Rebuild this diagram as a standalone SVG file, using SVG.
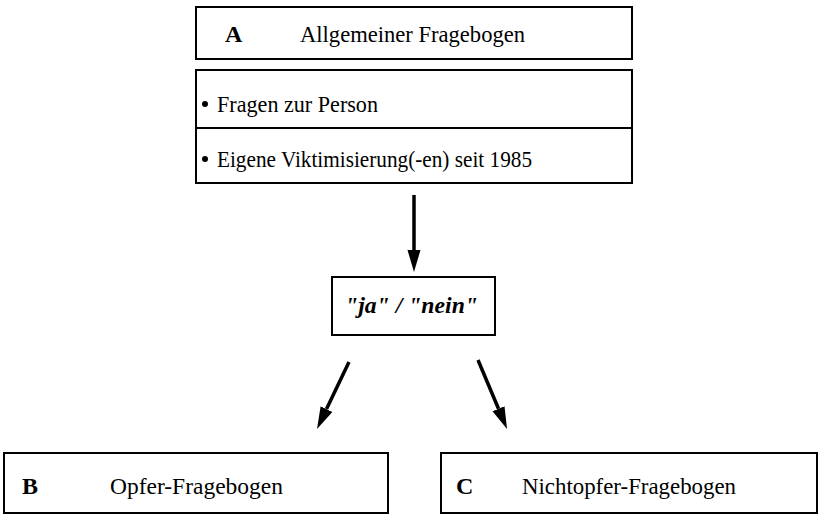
<svg xmlns="http://www.w3.org/2000/svg" width="821" height="528" viewBox="0 0 821 528">
<style>
.box{fill:#fff;stroke:#000;stroke-width:2}
.t{font-family:"Liberation Serif","Times New Roman",serif;font-size:24px;fill:#000}
.b{font-weight:bold}
.bi{font-weight:bold;font-style:italic;font-size:23px}
.c{fill:none;stroke:#000;stroke-width:3.5}
</style>
<defs>
<marker id="ah" markerUnits="userSpaceOnUse" viewBox="0 -7 24 14" refX="0" refY="0" markerWidth="24" markerHeight="14" orient="auto">
<path d="M0,-6.5 L22,0 L0,6.5 z" fill="#000"/>
</marker>
</defs>
<rect width="821" height="528" fill="#fff"/>
<g id="nodeA">
<rect class="box" x="196" y="7" width="436" height="52"/>
<text class="t b" x="225" y="42">A</text>
<text class="t" x="300" y="42" textLength="225" lengthAdjust="spacingAndGlyphs">Allgemeiner Fragebogen</text>
</g>
<g id="nodeA-items">
<rect class="box" x="196" y="70" width="436" height="113"/>
<line x1="196" y1="128" x2="632" y2="128" stroke="#000" stroke-width="2"/>
<circle cx="205" cy="104" r="3"/>
<text class="t" x="217" y="112" textLength="161" lengthAdjust="spacingAndGlyphs">Fragen zur Person</text>
<circle cx="205" cy="159" r="3"/>
<text class="t" x="217" y="167" textLength="315" lengthAdjust="spacingAndGlyphs">Eigene Viktimisierung(-en) seit 1985</text>
</g>
<g id="nodeDecision">
<rect class="box" x="332" y="277" width="163" height="58"/>
<text class="t bi" x="345" y="313" textLength="133" lengthAdjust="spacingAndGlyphs">"ja" / "nein"</text>
</g>
<g id="nodeB">
<rect class="box" x="4" y="453" width="384" height="60"/>
<text class="t b" x="22" y="494">B</text>
<text class="t" x="110" y="494" textLength="173" lengthAdjust="spacingAndGlyphs">Opfer-Fragebogen</text>
</g>
<g id="nodeC">
<rect class="box" x="441" y="453" width="376" height="60"/>
<text class="t b" x="456" y="494">C</text>
<text class="t" x="522" y="494" textLength="214" lengthAdjust="spacingAndGlyphs">Nichtopfer-Fragebogen</text>
</g>
<g id="connectors">
<path class="c" d="M414,195 L414,250" marker-end="url(#ah)"/>
<path class="c" d="M349,362 L326.5,409.1" marker-end="url(#ah)"/>
<path class="c" d="M478,360 L498.5,408.7" marker-end="url(#ah)"/>
</g>
</svg>
